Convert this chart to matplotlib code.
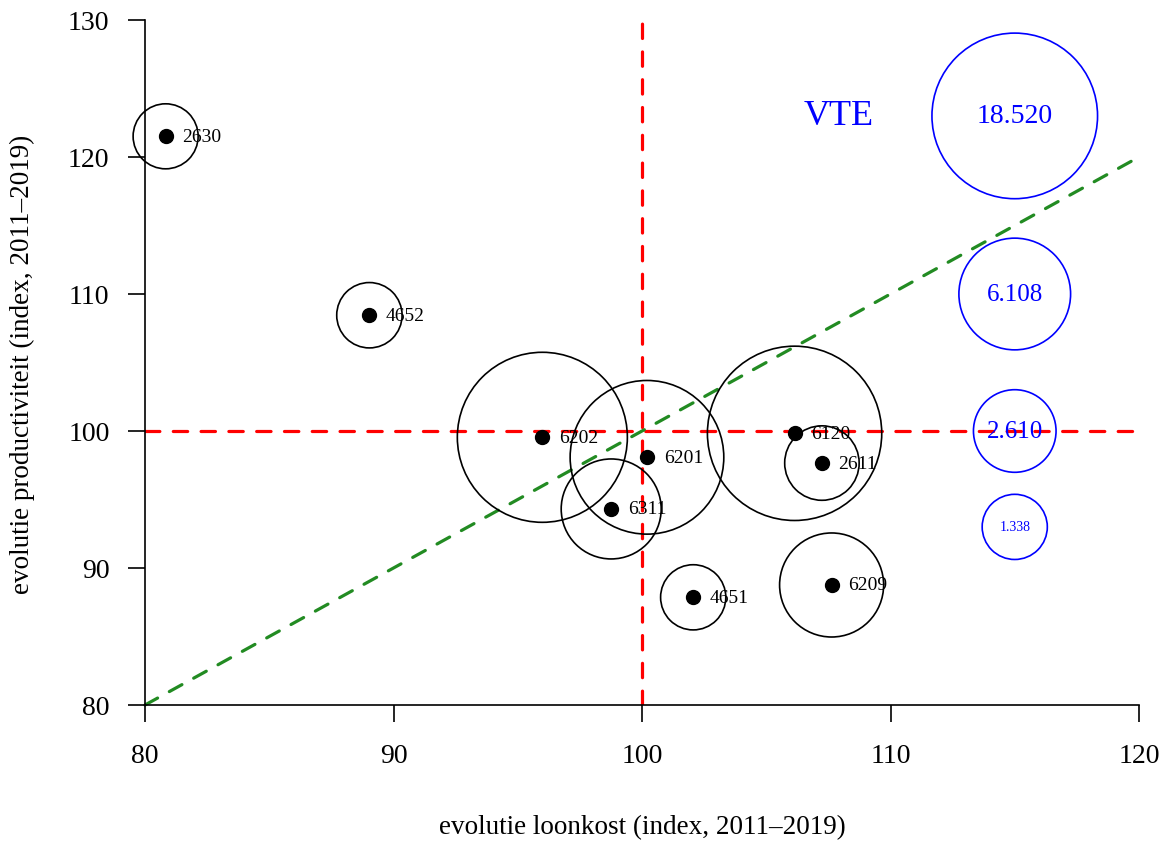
import matplotlib
matplotlib.use("Agg")
import matplotlib.pyplot as plt
import numpy as np

# sector codes (NACE) with labour cost / productivity evolution and employment (VTE)
codes = ["2630", "4652", "6202", "6201", "6311", "6120", "2611", "4651", "6209"]
loonkost = [80.83, 89.03, 95.99, 100.20, 98.76, 106.14, 107.24, 102.06, 107.63]
productiviteit = [121.51, 108.45, 99.54, 98.08, 94.31, 99.83, 97.66, 87.86, 88.76]
vte = [1330, 1350, 19950, 15000, 4470, 21400, 1950, 1340, 5000]

# reference circles for the size legend
legend_vte = [18520, 6108, 2610, 1338]
legend_labels = ["18.520", "6.108", "2.610", "1.338"]
legend_y = [123, 110, 100, 93]
legend_x = 115

xticks = [80, 90, 100, 110, 120]
yticks = [80, 90, 100, 110, 120, 130]

FONT = "Liberation Serif"
DPI = 100


def bubble_size(v):
    # radius in pixels ~ VTE^0.355, converted to scatter area (points^2)
    r_px = 82.8 * (np.asarray(v, dtype=float) / 18520) ** 0.355
    d_pt = 2 * r_px * 72 / DPI
    return d_pt ** 2


plt.rcParams["font.family"] = FONT

fig = plt.figure(figsize=(11.68, 8.45), dpi=DPI)
ax = fig.add_axes([145 / 1168, 1 - 706 / 845, (1139 - 145) / 1168, (706 - 21) / 845])
ax.set_xlim(80, 120)
ax.set_ylim(80, 130)

# reference lines
dash = dict(lw=2.3, dashes=(4.5, 4.2), dash_capstyle="round", zorder=1)
ax.axvline(100, color="#FF0000", **dash)
ax.axhline(100, color="#FF0000", **dash)
ax.plot([80, 120], [80, 120], color="#228B22", clip_on=False, **dash)

# bubbles
ax.scatter(loonkost, productiviteit, s=bubble_size(vte), facecolors="none",
           edgecolors="black", linewidths=1.2, clip_on=False, zorder=2)
ax.scatter(loonkost, productiviteit, s=100, color="black", zorder=3)
for c, x, y in zip(codes, loonkost, productiviteit):
    ax.annotate(c, (x, y), xytext=(12, 0), textcoords="offset points",
                ha="left", va="center", fontsize=14, zorder=4)

# size legend
ax.scatter([legend_x] * len(legend_vte), legend_y, s=bubble_size(legend_vte),
           facecolors="none", edgecolors="#0000FF", linewidths=1.2,
           clip_on=False, zorder=2)
legend_fs = [20, 18, 18, 10]
for lab, y, fs in zip(legend_labels, legend_y, legend_fs):
    ax.text(legend_x, y, lab, color="#0000FF", ha="center", va="center",
            fontsize=fs, zorder=4)
ax.text(107.9, 123, "VTE", color="#0000FF", ha="center", va="center",
        fontsize=26)

# axes styling (R base look)
for side in ["top", "right"]:
    ax.spines[side].set_visible(False)
for side in ["left", "bottom"]:
    ax.spines[side].set_linewidth(1.2)
ax.set_xticks(xticks)
ax.set_yticks(yticks)
ax.tick_params(axis="both", direction="out", length=12.5, width=1.2,
               labelsize=20)
ax.tick_params(axis="x", pad=15)
ax.tick_params(axis="y", pad=13)

fig.text(642 / 1168, 1 - 828 / 845, "evolutie loonkost (index, 2011\u20132019)",
         ha="center", va="center", fontsize=19.5)
fig.text(22 / 1168, 1 - 364 / 845, "evolutie productiviteit (index, 2011\u20132019)",
         ha="center", va="center", rotation=90, fontsize=19.5)

fig.savefig("out.png", dpi=DPI, facecolor="white")
